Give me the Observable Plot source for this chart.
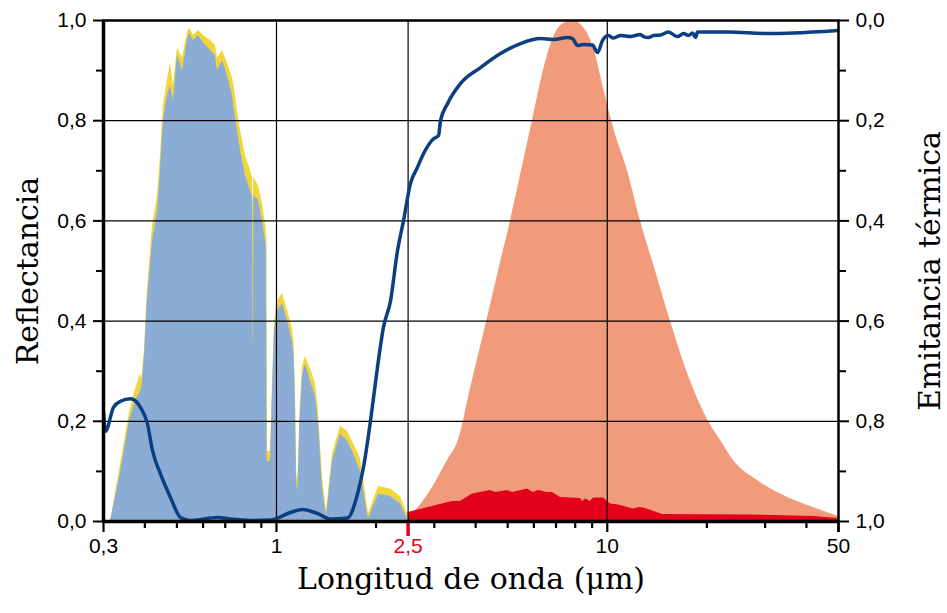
<!DOCTYPE html>
<html><head><meta charset="utf-8">
<script src="https://cdn.jsdelivr.net/npm/d3@7"></script>
<script src="https://cdn.jsdelivr.net/npm/@observablehq/plot@0.6"></script>
<style>body{margin:0;background:#fff}</style>
</head><body><div id="chart"></div>
<script>
// Vegetation reflectance (filled): wavelength (µm), blue spectrum, yellow spectrum
const vegWl = [0.312,0.315,0.338,0.359,0.375,0.388,0.392,0.399,0.407,0.422,0.437,0.446,0.455,0.468,0.478,0.488,0.502,0.520,0.538,0.546,0.561,0.581,0.602,0.632,0.654,0.663,0.687,0.711,0.736,0.746,0.762,0.779,0.806,0.835,0.846,0.850,0.852,0.854,0.858,0.882,0.907,0.926,0.932,0.936,0.940,0.959,0.972,0.986,1.007,1.043,1.080,1.118,1.130,1.141,1.150,1.160,1.178,1.198,1.224,1.267,1.312,1.340,1.377,1.416,1.477,1.561,1.639,1.710,1.795,1.858,1.897,2.034,2.211,2.371,2.490,2.5];
const vegBlue = [0,0,0.10,0.20,0.24,0.26,0.27,0.33,0.44,0.56,0.62,0.70,0.80,0.85,0.87,0.84,0.93,0.90,0.96,0.975,0.96,0.97,0.955,0.94,0.93,0.90,0.92,0.89,0.85,0.82,0.78,0.74,0.69,0.66,0.65,0.36,0.36,0.65,0.65,0.64,0.60,0.56,0.55,0.13,0.12,0.12,0.25,0.38,0.42,0.435,0.40,0.36,0.33,0.24,0.08,0.06,0.20,0.29,0.315,0.28,0.25,0.195,0.068,0.01,0.12,0.175,0.16,0.135,0.10,0.04,0.005,0.055,0.05,0.035,0.005,0];
const vegYellow = [0,0,0.115,0.215,0.265,0.295,0.285,0.345,0.46,0.59,0.65,0.73,0.83,0.88,0.915,0.87,0.945,0.925,0.975,0.985,0.97,0.98,0.97,0.96,0.95,0.925,0.94,0.915,0.885,0.865,0.82,0.78,0.73,0.70,0.685,0.64,0.64,0.685,0.685,0.67,0.635,0.595,0.58,0.56,0.14,0.14,0.27,0.40,0.44,0.455,0.42,0.385,0.355,0.27,0.10,0.08,0.22,0.31,0.33,0.305,0.275,0.22,0.09,0.02,0.135,0.19,0.18,0.155,0.125,0.06,0.015,0.07,0.065,0.05,0.015,0];

// Reflectance curve (line)
const lineWl = [0.300,0.304,0.3216,0.3376,0.3619,0.388,0.4074,0.4218,0.446,0.4782,0.5127,0.5495,0.6632,0.7262,0.8347,0.9591,1.1024,1.198,1.3302,1.4565,1.6392,1.7577,1.8323,1.9235,2.0199,2.106,2.2114,2.3213,2.4204,2.5418,2.6687,2.7823,2.9836,3.0889,3.1325,3.2885,3.5988,4.1372,4.7546,5.4663,6.2835,6.8772,7.5823,7.8506,8.1282,8.4763,9.0225,9.343,9.672,10.08,10.44,10.96,11.75,12.6,12.87,13.32,13.8,14.48,15.31,16.3,17.0,17.6,18.1,18.48,18.74,23.09,30.5,36.55,50];
const lineRefl = [0.22,0.18,0.228,0.24,0.245,0.228,0.195,0.142,0.095,0.048,0.008,0.002,0.008,0.005,0.002,0.003,0.018,0.024,0.016,0.005,0.007,0.055,0.108,0.20,0.308,0.388,0.44,0.54,0.60,0.675,0.707,0.734,0.764,0.77,0.80,0.834,0.874,0.906,0.934,0.954,0.964,0.962,0.966,0.964,0.95,0.952,0.951,0.936,0.96,0.97,0.965,0.97,0.968,0.972,0.968,0.966,0.97,0.971,0.977,0.968,0.974,0.97,0.975,0.966,0.977,0.977,0.974,0.975,0.98];

// Thermal emission (blackbody-like, salmon)
const bbWl = [2.5,2.595,2.922,3.289,3.549,3.859,4.344,4.69,5.098,5.503,5.941,6.414,6.877,7.374,7.851,8.476,9.086,9.739,10.44,11.51,12.6,13.99,15.52,17.85,20.23,21.99,24.07,28.46,35.06,42.02,48.97,50];
const bbVal = [0.01,0.018,0.062,0.122,0.162,0.265,0.406,0.50,0.60,0.70,0.80,0.90,0.966,0.994,1.0,0.986,0.946,0.866,0.786,0.70,0.60,0.50,0.40,0.28,0.20,0.162,0.122,0.082,0.048,0.028,0.012,0.01];

// Emitted by surface (red)
const emWl = [2.5,3.405,3.599,3.913,4.436,4.592,4.993,5.17,5.738,5.983,6.194,6.595,6.829,7.222,8.299,8.414,8.593,8.898,9.086,9.739,10.22,10.81,12.0,12.6,13.05,14.69,26.53,42.02,50];
const emVal = [0.018,0.04,0.04,0.055,0.062,0.058,0.062,0.058,0.065,0.058,0.062,0.058,0.058,0.048,0.046,0.04,0.045,0.04,0.047,0.047,0.035,0.033,0.025,0.028,0.026,0.014,0.013,0.01,0.006];

const yMajor = [0,0.2,0.4,0.6,0.8,1.0];
const yMinor = [0.1,0.3,0.5,0.7,0.9];
const xMajor = [0.3,1,10,50];
const xRed = [2.5];
const xMinor = [0.4,0.5,0.6,0.7,0.8,0.9,2,3,4,5,6,7,8,9,20,30,40];
const yGrid = [0.2,0.4,0.6,0.8];
const xGrid = [1,2.5,10];

const veg = vegWl.map((w,i)=>({w, b: vegBlue[i], yl: vegYellow[i]}));
const refl = lineWl.map((w,i)=>({w, r: lineRefl[i]}));
const bb = bbWl.map((w,i)=>({w, v: bbVal[i]}));
const em = emWl.map((w,i)=>({w, v: emVal[i]}));

const fmt = d => d3.format(".1f")(d).replace(".", ",");
const xFmt = d => String(Math.round(d * 10) / 10).replace(".", ",");
const serif = "DejaVu Serif, serif";
const RED = "#e2001a";

const chart = Plot.plot({
  width: 947, height: 613,
  marginLeft: 103, marginRight: 109, marginTop: 20, marginBottom: 92,
  style: {fontFamily: "Liberation Sans, Arial, sans-serif", fontSize: "21px", color: "#000", background: "#fff", overflow: "visible"},
  x: {type: "log", domain: [0.3, 50]},
  y: {domain: [0, 1]},
  marks: [
    Plot.areaY(bb, {x: "w", y: "v", fill: "#f29b7b", curve: "monotone-x", clip: true}),
    Plot.areaY(em, {x: "w", y: "v", fill: RED, clip: true}),
    Plot.areaY(veg, {x: "w", y: "yl", fill: "#f0d63a", clip: true}),
    Plot.areaY(veg, {x: "w", y: "b", fill: "#8badd5", clip: true}),
    Plot.gridY(yGrid, {stroke: "#000", strokeOpacity: 1, strokeWidth: 1.2}),
    Plot.gridX(xGrid, {stroke: "#000", strokeOpacity: 1, strokeWidth: 1.2}),
    Plot.line(refl, {x: "w", y: "r", stroke: "#0c3f82", strokeWidth: 3.5, curve: "monotone-x", clip: true}),
    Plot.frame({stroke: "#000", strokeWidth: 2.5}),
    Plot.axisX(xMajor, {anchor: "bottom", tickSize: 11, tickFormat: () => "", strokeWidth: 2.2, label: null}),
    Plot.axisX(xMinor, {anchor: "bottom", tickSize: 7, tickFormat: () => "", strokeWidth: 2.2, label: null}),
    Plot.ruleX([50], {x: d => d, y1: 0, y2: 0, insetBottom: -11, stroke: "#000", strokeWidth: 2.5}),
    Plot.ruleX(xRed, {x: d => d, y1: 0, y2: 0, insetBottom: -15, stroke: RED, strokeWidth: 3.5}),
    Plot.ruleX([0.3], {stroke: "#000", strokeWidth: 3.5}),
    Plot.ruleY([0], {stroke: "#000", strokeWidth: 3.5}),
    Plot.axisY(yMajor, {anchor: "left", tickSize: 10, tickPadding: 7, tickFormat: fmt, fontSize: 21, strokeWidth: 2, label: null}),
    Plot.axisY(yMinor, {anchor: "left", tickSize: 7, tickFormat: () => "", strokeWidth: 2, label: null}),
    Plot.axisY(yMajor, {anchor: "right", tickSize: 10, tickPadding: 7, tickFormat: d => fmt(1 - d), fontSize: 21, strokeWidth: 2, label: null}),
    Plot.axisY(yMinor, {anchor: "right", tickSize: 7, tickFormat: () => "", strokeWidth: 2, label: null}),
    Plot.text(xMajor, {x: d => d, frameAnchor: "bottom", lineAnchor: "top", dy: 17, text: xFmt, fontSize: 21, fill: "#000"}),
    Plot.text(xRed, {x: d => d, frameAnchor: "bottom", lineAnchor: "top", dy: 17, text: xFmt, fontSize: 21, fill: RED}),
    Plot.text(["Reflectancia"], {text: d => d, frameAnchor: "left", textAnchor: "middle", dx: -75, rotate: -90, fontFamily: serif, fontSize: 30, fill: "#000"}),
    Plot.text(["Emitancia térmica"], {text: d => d, frameAnchor: "right", textAnchor: "middle", dx: 92, rotate: -90, fontFamily: serif, fontSize: 30, fill: "#000"}),
    Plot.text(["Longitud de onda (μm)"], {text: d => d, frameAnchor: "bottom", dy: 67, fontFamily: serif, fontSize: 30, fill: "#000"})
  ]
});
document.getElementById("chart").appendChild(chart);
</script></body></html>
